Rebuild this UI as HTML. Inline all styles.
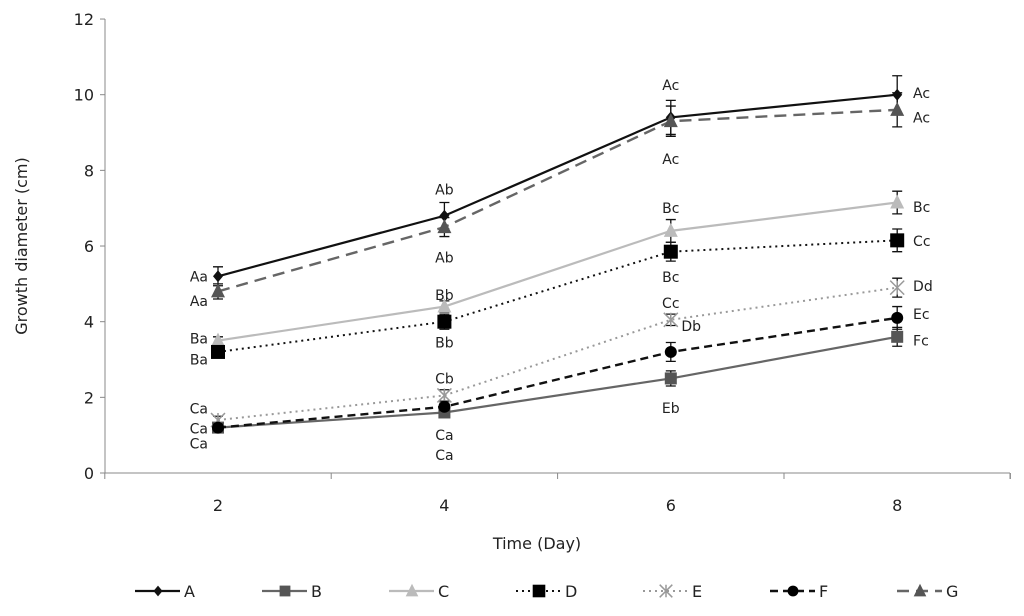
<!DOCTYPE html>
<html><head><meta charset="utf-8"><style>
body{margin:0;background:#fff;font-family:"Liberation Sans","DejaVu Sans",sans-serif}
svg text{font-family:"DejaVu Sans","Liberation Sans",sans-serif;fill:#222}
</style></head><body>
<svg id="c" width="1024" height="611" xmlns="http://www.w3.org/2000/svg"></svg>
<script>
const days=[2,4,6,8];
const yTicks=[0,2,4,6,8,10,12];
const seriesNames=['A','B','C','D','E','F','G'];
const valA=[5.2,6.8,9.4,10.0];
const valB=[1.2,1.6,2.5,3.6];
const valC=[3.5,4.4,6.4,7.15];
const valD=[3.2,4.0,5.85,6.15];
const valE=[1.4,2.05,4.05,4.9];
const valF=[1.2,1.75,3.2,4.1];
const valG=[4.8,6.5,9.3,9.6];
const errA=[0.25,0.35,0.45,0.5];
const errB=[0.05,0.1,0.2,0.25];
const errC=[0.1,0.15,0.3,0.3];
const errD=[0.05,0.2,0.25,0.3];
const errE=[0.1,0.15,0.15,0.25];
const errF=[0.05,0.1,0.25,0.3];
const errG=[0.2,0.25,0.4,0.45];
const letters=[
 [2,5.2,'Aa','e'],[2,4.55,'Aa','e'],[2,3.55,'Ba','e'],[2,3.0,'Ba','e'],[2,1.7,'Ca','e'],[2,1.18,'Ca','e'],[2,0.78,'Ca','e'],
 [4,7.5,'Ab','m'],[4,5.7,'Ab','m'],[4,4.7,'Bb','m'],[4,3.45,'Bb','m'],[4,2.5,'Cb','m'],[4,1.0,'Ca','m'],[4,0.48,'Ca','m'],
 [6,10.25,'Ac','m'],[6,8.3,'Ac','m'],[6,7.0,'Bc','m'],[6,5.18,'Bc','m'],[6,4.5,'Cc','m'],[6.18,3.88,'Db','m'],[6,1.72,'Eb','m'],
 [8.14,10.05,'Ac','s'],[8.14,9.4,'Ac','s'],[8.14,7.03,'Bc','s'],[8.14,6.13,'Cc','s'],[8.14,4.94,'Dd','s'],[8.14,4.2,'Ec','s'],[8.14,3.5,'Fc','s']
];
const svg=document.getElementById('c');
const NS='http://www.w3.org/2000/svg';
const x=d=>218+(d-2)*113.2;
const y=v=>473-v*37.83;
function mk(t,a,p){const e=document.createElementNS(NS,t);for(const k in a)e.setAttribute(k,a[k]);(p||svg).appendChild(e);return e;}
// axes
const ax=mk('g',{});


mk('line',{x1:105,y1:19,x2:105,y2:473,stroke:'#888'},ax);
mk('line',{x1:105,y1:473,x2:1010,y2:473,stroke:'#888'},ax);
yTicks.forEach(t=>{mk('line',{x1:100,y1:y(t),x2:105,y2:y(t),stroke:'#888'},ax);
 const tx=mk('text',{x:94,y:y(t)+6,'text-anchor':'end','font-size':16},ax);tx.textContent=t;
 
 });
[1,3,5,7,9].forEach(b=>mk('line',{x1:x(b),y1:473,x2:x(b),y2:479,stroke:'#888'},ax));
mk('line',{x1:1010,y1:473,x2:1010,y2:479,stroke:'#888'},ax);
days.forEach(d=>{const tx=mk('text',{x:x(d),y:511,'text-anchor':'middle','font-size':16},ax);tx.textContent=d;
 
 });
const xt=mk('text',{x:537,y:549,'text-anchor':'middle','font-size':16});xt.textContent='Time (Day)';


const yt=mk('text',{x:0,y:0,'text-anchor':'middle','font-size':16,transform:'translate(27,246) rotate(-90)'});yt.textContent='Growth diameter (cm)';


const styles={
 A:{c:'#111',w:2.2,da:'',m:'diamond',mc:'#111'},
 B:{c:'#666',w:2.2,da:'',m:'square',mc:'#555'},
 C:{c:'#bbb',w:2.2,da:'',m:'tri',mc:'#bbb'},
 D:{c:'#111',w:2,da:'2,4',m:'bigsquare',mc:'#000'},
 E:{c:'#999',w:2,da:'2,4',m:'x',mc:'#999'},
 F:{c:'#111',w:2.4,da:'8,5',m:'circle',mc:'#000'},
 G:{c:'#666',w:2.4,da:'12,7',m:'tri',mc:'#555'}
};
const vals={A:valA,B:valB,C:valC,D:valD,E:valE,F:valF,G:valG};
const errs={A:errA,B:errB,C:errC,D:errD,E:errE,F:errF,G:errG};
function marker(m,cx,cy,col,p,s){s=s||1;
 if(m==='diamond')mk('polygon',{points:`${cx},${cy-6*s} ${cx+5*s},${cy} ${cx},${cy+6*s} ${cx-5*s},${cy}`,fill:col},p);
 if(m==='square')mk('rect',{x:cx-6*s,y:cy-6*s,width:12*s,height:12*s,fill:col},p);
 if(m==='bigsquare')mk('rect',{x:cx-7*s,y:cy-7*s,width:14*s,height:14*s,fill:col},p);
 if(m==='tri')mk('polygon',{points:`${cx},${cy-8*s} ${cx+7*s},${cy+6*s} ${cx-7*s},${cy+6*s}`,fill:col},p);
 if(m==='circle')mk('circle',{cx:cx,cy:cy,r:6*s,fill:col},p);
 if(m==='x'){const r=7*s;mk('path',{d:`M${cx-r},${cy-r}L${cx+r},${cy+r}M${cx+r},${cy-r}L${cx-r},${cy+r}M${cx},${cy-r}L${cx},${cy+r}`,stroke:col,'stroke-width':1.5},p);}
}
seriesNames.forEach(n=>{
 const st=styles[n],v=vals[n],e=errs[n];
 const g=mk('g',{});
 
 
 mk('polyline',{points:days.map((d,i)=>x(d)+','+y(v[i])).join(' '),fill:'none',stroke:st.c,'stroke-width':st.w,'stroke-dasharray':st.da},g);
 days.forEach((d,i)=>{
  const cx=x(d),t=y(v[i]+e[i]),b=y(v[i]-e[i]);
  mk('path',{d:`M${cx},${t}L${cx},${b}M${cx-5},${t}L${cx+5},${t}M${cx-5},${b}L${cx+5},${b}`,stroke:'#111','stroke-width':1.3},g);
  marker(st.m,cx,y(v[i]),st.mc,g);
 });
});
letters.forEach(L=>{
 const anc=L[3]==='e'?'end':L[3]==='m'?'middle':'start';
 const xx=L[3]==='e'?x(L[0])-10:x(L[0]);
 const t=mk('text',{x:xx,y:y(L[1])+5,'text-anchor':anc,'font-size':14});t.textContent=L[2];
 
 
});
// legend
seriesNames.forEach((n,i)=>{
 const st=styles[n];const lx=192+i*127;
 const g=mk('g',{});
 
 
 mk('line',{x1:lx-57,y1:591,x2:lx-12,y2:591,stroke:st.c,'stroke-width':st.w,'stroke-dasharray':st.da},g);
 marker(st.m,lx-34,591,st.mc,g,0.9);
 const t=mk('text',{x:lx-8,y:597,'font-size':16},g);t.textContent=n;
});
</script>
</body></html>
